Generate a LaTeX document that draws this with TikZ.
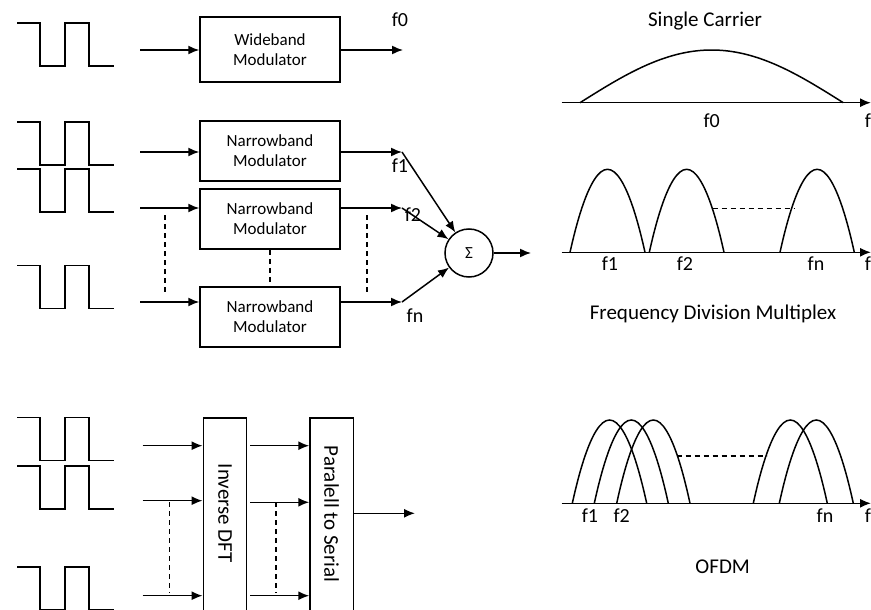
\documentclass[tikz,border=0pt]{standalone}
\usepackage{fontspec}
\setmainfont{Carlito}
\usetikzlibrary{arrows.meta}
\begin{document}
\begin{tikzpicture}[x=1pt,y=-1pt,line width=1.5pt,
  arr/.style={-{Latex[length=11pt,width=9pt]}},
  dashln/.style={line width=1.2pt,dash pattern=on 5pt off 4pt},
  modbox/.style={draw,minimum width=140pt,minimum height=60pt,align=center,
    font=\fontsize{17}{20}\selectfont,inner sep=0pt},
  tallbox/.style={draw,minimum width=43.4pt,minimum height=197.3pt,inner sep=0pt},
  vtext/.style={rotate=-90,font=\fontsize{21}{24}\selectfont,inner sep=0pt},
  lbl/.style={font=\fontsize{20}{24}\selectfont,inner sep=0pt},
  title/.style={font=\fontsize{21}{25}\selectfont,inner sep=0pt},
  pics/pulsewave/.style={code={
    \draw (0,0) -- (23,0) -- (23,43) -- (48,43) -- (48,0) -- (72,0) -- (72,43) -- (97,43);}}
]
\useasboundingbox (0,0) rectangle (871,610);

% ---------- single carrier transmitter ----------
\pic at (17,23) {pulsewave};
\node[modbox,minimum height=65pt] (wb) at (270,49.5) {Wideband\\Modulator};
\coordinate (in0) at (140,50);
\coordinate (out0) at (403,50);
\draw[arr] (in0) -- (in0 -| wb.west);
\draw[arr] (out0 -| wb.east) -- (out0);
\node[lbl] (lf0) at (400,20) {f0};

% ---------- FDM transmitter ----------
\pic at (17,122) {pulsewave};
\pic at (17,169) {pulsewave};
\pic at (17,265.5) {pulsewave};

\node[modbox] (nb1) at (270,151) {Narrowband\\Modulator};
\node[modbox] (nb2) at (270,219) {Narrowband\\Modulator};
\node[modbox] (nb3) at (270,317) {Narrowband\\Modulator};

\coordinate (i1) at (140,152);
\coordinate (i2) at (140,208);
\coordinate (i3) at (140,302);
\draw[arr] (i1) -- (i1 -| nb1.west);
\draw[arr] (i2) -- (i2 -| nb2.west);
\draw[arr] (i3) -- (i3 -| nb3.west);

\coordinate (p1) at (402,152);
\coordinate (p2) at (402,208);
\coordinate (pn) at (402,302);
\draw[arr] (p1 -| nb1.east) -- (p1);
\draw[arr] (p2 -| nb2.east) -- (p2);
\draw[arr] (pn -| nb3.east) -- (pn);

% dots between the branches
\coordinate (dl1) at (165,215);
\coordinate (dl2) at (165,292);
\coordinate (dr1) at (367,215);
\coordinate (dr2) at (367,292);
\draw[dashln] (dl1) -- (dl2);
\draw[dashln] (dr1) -- (dr2);
\draw[dashln] (nb2.south) -- (nb3.north);

\node[circle,draw,minimum size=48pt,inner sep=0pt,font=\fontsize{17}{20}\selectfont] (sum) at (469,253) {Σ};
\draw[arr] (p1) -- (sum);
\draw[arr] (p2) -- (sum);
\draw[arr] (pn) -- (sum);
\coordinate (sout) at (531,253);
\draw[arr] (sum.east) -- (sout);

\node[lbl] (lf1) at (400,166) {f1};
\node[lbl] (lf2) at (413,215) {f2};
\node[lbl] (lfn) at (415,316) {fn};

% ---------- OFDM transmitter ----------
\pic at (17,417.7) {pulsewave};
\pic at (17,466) {pulsewave};
\pic at (17,567) {pulsewave};

\node[tallbox] (idft) at (225,516.4) {};
\node[vtext] (idftt) at (225,513.3) {Inverse DFT};
\node[tallbox] (p2s) at (331.7,516.4) {};
\node[vtext] (p2st) at (331.7,514) {Paralell to Serial};

\coordinate (b1) at (142.7,445.7);
\coordinate (b2) at (142.7,500.7);
\coordinate (b3) at (142.7,595.7);
\draw[arr] (b1) -- (b1 -| idft.west);
\draw[arr] (b2) -- (b2 -| idft.west);
\draw[arr] (b3) -- (b3 -| idft.west);

\coordinate (m1) at (308.3,445.7);
\coordinate (m2) at (308.3,502.3);
\coordinate (m3) at (308.3,595.7);
\draw[arr,shorten <=2.6pt] (m1 -| idft.east) -- (m1 -| p2s.west);
\draw[arr,shorten <=2.6pt] (m2 -| idft.east) -- (m2 -| p2s.west);
\draw[arr,shorten <=2.6pt] (m3 -| idft.east) -- (m3 -| p2s.west);

\coordinate (bl1) at (169.3,502);
\coordinate (bl2) at (169.3,593);
\coordinate (br1) at (276,502);
\coordinate (br2) at (276,593);
\draw[dashln] (bl1) -- (bl2);
\draw[dashln] (br1) -- (br2);

\coordinate (ofdmout) at (415,513.3);
\draw[arr] (ofdmout -| p2s.east) -- (ofdmout);

% ---------- spectra ----------
\newcommand\hump[4]{\draw (#1,#3) parabola bend ({(#1+#2)/2},#4) (#2,#3);}

% single carrier
\node[title] (tsc) at (705,21) {Single Carrier};
\coordinate (a0s) at (561.7,102.7);
\coordinate (a0e) at (871,102.7);
\draw[arr] (a0s) -- (a0e);
\draw[line join=round,domain=0:180,samples=90,variable=\x]
  plot ({580+1.4628*\x},{102.7-52.7*sin(\x)});
\node[lbl] (sf0) at (711.7,121) {f0};
\node[lbl,anchor=west] (sf) at (864,121) {f};

% frequency division multiplex
\coordinate (a1s) at (561.7,252.3);
\coordinate (a1e) at (871,252.3);
\draw[arr] (a1s) -- (a1e);
\hump{570}{645}{252.3}{169.3}
\hump{649.3}{724}{252.3}{169.3}
\hump{780}{854.3}{252.3}{169.3}
\coordinate (fd1) at (712.7,208.3);
\coordinate (fd2) at (794,208.3);
\draw[dashln] (fd1) -- (fd2);
\node[lbl] (ff1) at (610,264) {f1};
\node[lbl] (ff2) at (685,264) {f2};
\node[lbl] (ffn) at (816,264) {fn};
\node[lbl,anchor=west] (ff) at (864,264) {f};
\node[title] (tfdm) at (713,314) {Frequency Division Multiplex};

% OFDM
\coordinate (a2s) at (561.7,503.3);
\coordinate (a2e) at (871,503.3);
\draw[arr] (a2s) -- (a2e);
\hump{572.3}{646.7}{503.3}{420}
\hump{594.3}{668.3}{503.3}{420}
\hump{616.7}{690}{503.3}{420}
\hump{753.3}{827.3}{503.3}{420}
\hump{779.3}{853.3}{503.3}{420}
\coordinate (od1) at (676.7,456);
\coordinate (od2) at (766.7,456);
\draw[dashln] (od1) -- (od2);
\node[lbl] (of1) at (590,516) {f1};
\node[lbl] (of2) at (621.7,516) {f2};
\node[lbl] (ofn) at (825,516) {fn};
\node[lbl,anchor=west] (of) at (864,516) {f};
\node[title] (tofdm) at (722.7,567) {OFDM};
\end{tikzpicture}
\end{document}
